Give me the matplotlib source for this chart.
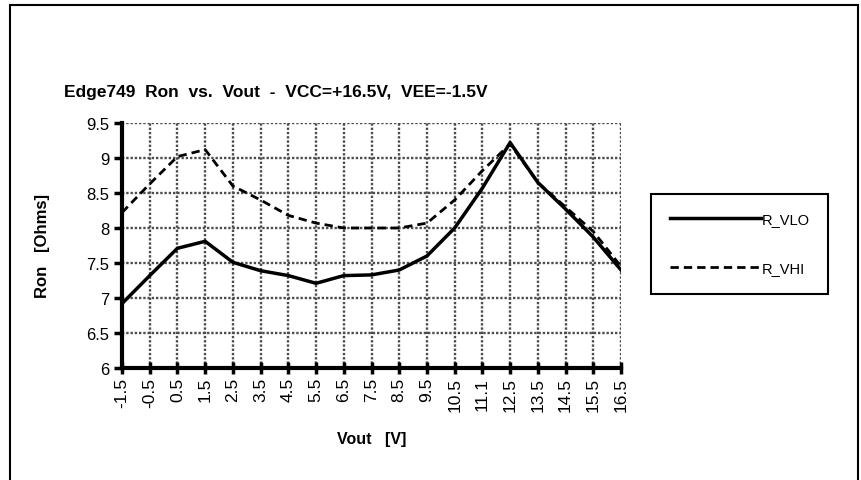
import matplotlib
matplotlib.use("Agg")
import matplotlib.pyplot as plt
from matplotlib.patches import Rectangle

plt.rcParams["font.family"] = ["Liberation Sans", "DejaVu Sans"]

vout = ["-1.5", "-0.5", "0.5", "1.5", "2.5", "3.5", "4.5", "5.5", "6.5", "7.5",
        "8.5", "9.5", "10.5", "11.1", "12.5", "13.5", "14.5", "15.5", "16.5"]
r_vlo = [6.92, 7.32, 7.71, 7.81, 7.51, 7.39, 7.32, 7.21, 7.32, 7.33,
         7.40, 7.60, 8.00, 8.57, 9.22, 8.65, 8.27, 7.87, 7.40]
r_vhi = [8.22, 8.63, 9.02, 9.12, 8.60, 8.40, 8.18, 8.07, 8.00, 8.00,
         8.00, 8.07, 8.40, 8.82, 9.20, 8.65, 8.30, 7.95, 7.45]
yticks = [6, 6.5, 7, 7.5, 8, 8.5, 9, 9.5]

fig = plt.figure(figsize=(8.61, 4.81), dpi=100)
ax = fig.add_axes([122/861, 1-369/481, 499/861, 245/481])
x = list(range(len(vout)))
ax.plot(x, r_vlo, "-", color="black", lw=2.5, label="R_VLO")
ax.plot(x, r_vhi, color="black", lw=2, dashes=(3, 1.8), label="R_VHI")

ax.set_xlim(0, len(vout) - 1)
ax.set_ylim(6, 9.5)
ax.set_xticks(x)
ax.set_xticklabels(vout, rotation=90, fontsize=12.5)
ax.set_yticks(yticks)
ax.set_yticklabels([f"{v:g}" for v in yticks], fontsize=12)
ax.tick_params(axis="x", direction="inout", length=9, width=2.5, pad=2)
ax.tick_params(axis="y", direction="out", length=6, width=2.5, pad=3)
ax.grid(True, color="0.3", ls=(0, (1, 0.8)), lw=1.7)
ax.set_axisbelow(True)
for s in ("top", "right"):
    ax.spines[s].set_visible(False)
for s in ("left", "bottom"):
    ax.spines[s].set_linewidth(3)

ax.set_xlabel("Vout   [V]", fontsize=11.5, fontweight="bold", labelpad=14)
ax.set_ylabel("Ron   [Ohms]", fontsize=12, fontweight="bold", labelpad=26)
fig.text(64/861, 1-97/481, "Edge749  Ron  vs.  Vout  -  VCC=+16.5V,  VEE=-1.5V",
         fontsize=12.5, fontweight="bold", va="baseline", ha="left")

leg = fig.legend(loc="center", bbox_to_anchor=(739.5/861, 1-245/481), fontsize=10.5,
                 handlelength=6.3, handletextpad=0.0, labelspacing=2.4,
                 borderpad=1.3, fancybox=False, edgecolor="black", framealpha=1)
leg.get_frame().set_linewidth(1.5)

fig.patches.append(Rectangle((10/861, -0.05), 848/861, 1.05-6/481,
                             transform=fig.transFigure, fill=False,
                             edgecolor="black", lw=1.5))
fig.savefig("out.png", dpi=100)
